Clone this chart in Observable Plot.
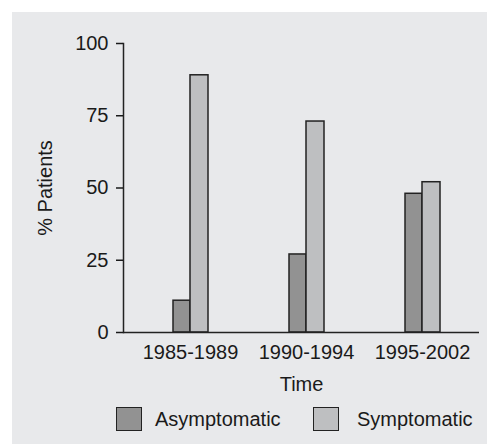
<!DOCTYPE html>
<html><head><meta charset="utf-8">
<script src="https://cdn.jsdelivr.net/npm/d3@7"></script>
<script src="https://cdn.jsdelivr.net/npm/@observablehq/plot@0.6"></script>
<style>
body{margin:0;background:#fff;font-family:"Liberation Sans",Arial,sans-serif;}
#panel{position:absolute;left:12px;top:12px;width:475px;height:432px;background:#e8e9eb;overflow:hidden;}
#chart{position:absolute;left:0;top:0;}
#legend{position:absolute;left:0;top:384px;width:475px;height:48px;}
.sw{position:absolute;width:24px;height:22px;border:1.4px solid #222;top:11px;box-sizing:content-box;}
.lt{position:absolute;top:11px;font-size:20px;line-height:24px;color:#1a1a1a;}
</style>
</head><body>
<div id="panel"><div id="chart"></div><div id="legend"></div></div>
<script>
const groups = ["1985-1989", "1990-1994", "1995-2002"];
const seriesNames = ["Asymptomatic", "Symptomatic"];
const asymptomatic = [11, 27, 48];
const symptomatic = [89, 73, 52];
const yTicks = [0, 25, 50, 75, 100];
const colors = ["#929292", "#bebfc1"];

const asymData = groups.map((g, i) => ({group: g, value: asymptomatic[i]}));
const symData = groups.map((g, i) => ({group: g, value: symptomatic[i]}));

const chart = Plot.plot({
  width: 475, height: 384,
  marginLeft: 111, marginRight: 8, marginTop: 31, marginBottom: 64,
  style: {background: "transparent", fontFamily: "Liberation Sans, Arial, sans-serif", fontSize: "20px", color: "#1a1a1a"},
  x: {domain: groups, range: [120, 468], padding: 0},
  y: {domain: [0, 100]},
  marks: [
    Plot.barY(asymData, {x: "group", y: "value", fill: colors[0], stroke: "#222", strokeWidth: 1.5, insetLeft: 41, insetRight: 58}),
    Plot.barY(symData, {x: "group", y: "value", fill: colors[1], stroke: "#222", strokeWidth: 1.5, insetLeft: 58, insetRight: 40}),
    Plot.ruleY([0], {stroke: "#222", strokeWidth: 1.5}),
    Plot.frame({anchor: "left", stroke: "#222", strokeWidth: 1.5}),
    Plot.axisY({ticks: yTicks, tickSize: 7, tickPadding: 8, strokeWidth: 1.5, label: "% Patients", labelAnchor: "center", labelArrow: "none", labelOffset: 86}),
    Plot.axisX({tickSize: 0, tickPadding: 12, label: "Time", labelAnchor: "center", labelArrow: "none", labelOffset: 58})
  ]
});
document.getElementById("chart").appendChild(chart);

const legend = document.getElementById("legend");
const swLeft = [104, 301], txtLeft = [143, 345];
seriesNames.forEach((name, i) => {
  const sw = document.createElement("div");
  sw.className = "sw"; sw.style.left = swLeft[i] + "px"; sw.style.background = colors[i];
  legend.appendChild(sw);
  const t = document.createElement("div");
  t.className = "lt"; t.style.left = txtLeft[i] + "px"; t.textContent = name;
  legend.appendChild(t);
});
</script>
</body></html>
